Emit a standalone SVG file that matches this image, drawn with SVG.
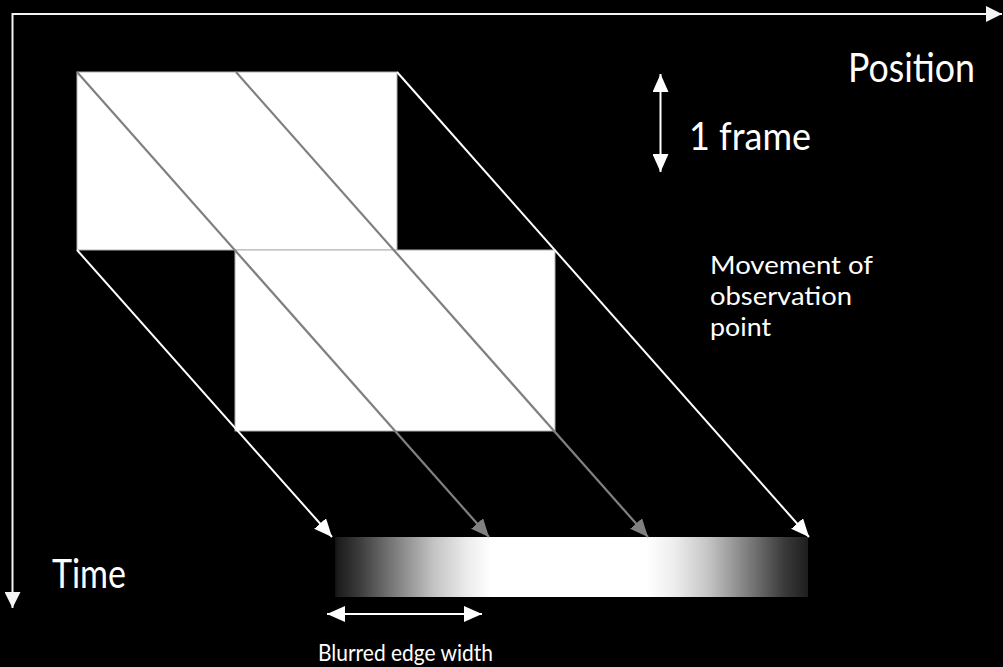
<svg xmlns="http://www.w3.org/2000/svg" width="1003" height="667" viewBox="0 0 1003 667">
  <defs>
    <style>
      text { font-family: Lato, "Open Sans", "Liberation Sans", sans-serif; fill: #ffffff; }
      .ax { stroke: #f4f4f4; stroke-width: 2; fill: none; }
      .wl { stroke: #ffffff; stroke-width: 2; fill: none; }
      .gl { stroke: #808080; stroke-width: 2.2; fill: none; }
      .box { fill: #ffffff; stroke: #b0b0b0; stroke-width: 1; }
    </style>
    <marker id="aw" markerUnits="userSpaceOnUse" markerWidth="18" markerHeight="16" refX="18" refY="8" orient="auto-start-reverse">
      <path d="M0,0 L18,8 L0,16 z" fill="#ffffff"/>
    </marker>
    <marker id="ag" markerUnits="userSpaceOnUse" markerWidth="18" markerHeight="16" refX="18" refY="8" orient="auto">
      <path d="M0,0 L18,8 L0,16 z" fill="#808080"/>
    </marker>
    <marker id="ax" markerUnits="userSpaceOnUse" markerWidth="16" markerHeight="16" refX="16" refY="8" orient="auto">
      <path d="M0,0 L16,8 L0,16 z" fill="#f4f4f4"/>
    </marker>
    <linearGradient id="blur" x1="335" y1="0" x2="808" y2="0" gradientUnits="userSpaceOnUse">
      <stop offset="0" stop-color="#101010"/>
      <stop offset="0.006" stop-color="#1c1c1c"/>
      <stop offset="0.05" stop-color="#3a3a3a"/>
      <stop offset="0.12" stop-color="#777777"/>
      <stop offset="0.21" stop-color="#c4c4c4"/>
      <stop offset="0.28" stop-color="#ececec"/>
      <stop offset="0.33" stop-color="#ffffff"/>
      <stop offset="0.66" stop-color="#ffffff"/>
      <stop offset="0.72" stop-color="#ececec"/>
      <stop offset="0.79" stop-color="#c4c4c4"/>
      <stop offset="0.88" stop-color="#777777"/>
      <stop offset="0.95" stop-color="#3a3a3a"/>
      <stop offset="1" stop-color="#1e1e1e"/>
    </linearGradient>
  </defs>
  <rect x="0" y="0" width="1003" height="667" fill="#000000"/>

  <g id="axes">
    <line class="ax" x1="12.5" y1="14" x2="1002" y2="14" marker-end="url(#ax)"/>
    <line class="ax" x1="12.5" y1="13" x2="12.5" y2="608" marker-end="url(#ax)"/>
  </g>

  <g id="frame1">
    <rect class="box" x="77" y="72" width="320" height="178"/>
  </g>
  <g id="frame2">
    <rect class="box" x="235" y="250" width="320" height="181"/>
  </g>

  <g id="result-bar">
    <rect x="335" y="537" width="473" height="60" fill="url(#blur)"/>
  </g>

  <g id="connectors">
    <line class="wl" x1="77" y1="250" x2="332" y2="537" marker-end="url(#aw)"/>
    <line class="gl" x1="77" y1="72" x2="489" y2="537" marker-end="url(#ag)"/>
    <line class="gl" x1="236" y1="72" x2="648" y2="537" marker-end="url(#ag)"/>
    <line class="wl" x1="397" y1="72" x2="809" y2="537" marker-end="url(#aw)"/>
    <line class="wl" x1="660.5" y1="74" x2="660.5" y2="172" marker-start="url(#aw)" marker-end="url(#aw)"/>
    <line class="wl" x1="327" y1="614" x2="482" y2="614" marker-start="url(#aw)" marker-end="url(#aw)"/>
  </g>

  <g id="labels">
    <text x="848" y="82" font-size="40" textLength="127" lengthAdjust="spacingAndGlyphs">Position</text>
    <text x="689" y="150" font-size="38" textLength="122" lengthAdjust="spacingAndGlyphs">1 frame</text>
    <text x="710" y="274" font-size="25" textLength="163" lengthAdjust="spacingAndGlyphs">Movement of</text>
    <text x="710" y="305" font-size="25" textLength="142" lengthAdjust="spacingAndGlyphs">observation</text>
    <text x="710" y="336" font-size="25" textLength="61" lengthAdjust="spacingAndGlyphs">point</text>
    <text x="52" y="588" font-size="40" textLength="74" lengthAdjust="spacingAndGlyphs">Time</text>
    <text x="318" y="661" font-size="23" textLength="175" lengthAdjust="spacingAndGlyphs">Blurred edge width</text>
  </g>
</svg>
